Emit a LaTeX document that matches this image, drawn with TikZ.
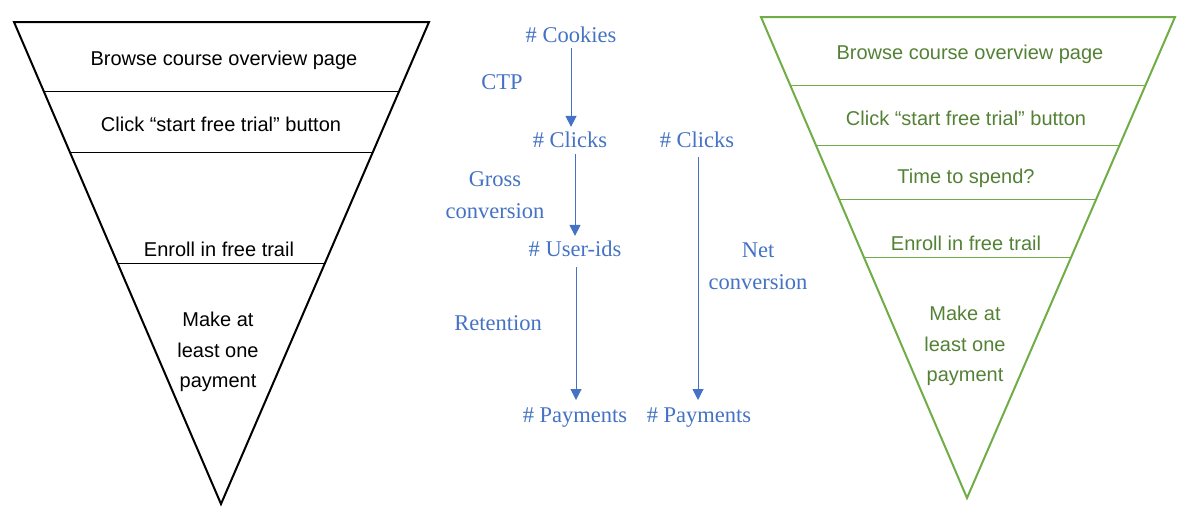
\documentclass[tikz,border=0pt]{standalone}
\usepackage{fontspec}
\setmainfont{Liberation Sans}
\newfontfamily\metricfont{Liberation Serif}
\usetikzlibrary{arrows.meta, positioning, calc}
\definecolor{funnelgreen}{HTML}{70AD47}
\definecolor{stepgreen}{HTML}{538135}
\definecolor{metricblue}{HTML}{4472C4}
\tikzset{
    stage/.style={font=\fontsize{20}{30.5}\selectfont, align=center, inner sep=2pt},
    metric/.style={font=\metricfont\fontsize{22.5}{31.5}\selectfont, text=metricblue, align=center, inner sep=2pt},
    rate/.style={metric},
    flow/.style={-{Triangle[width=11pt,length=11pt]}, draw=metricblue, line width=1pt},
    funnel/.style={line width=2pt, line join=miter},
    divider/.style={line width=1pt}
}

\begin{document}
\begin{tikzpicture}[x=1pt, y=-1pt]
    \useasboundingbox (0,0) rectangle (1193,520);
    % left funnel
    \coordinate (LTL) at (14,22);
    \coordinate (LTR) at (429,22);
    \coordinate (LA) at (221,504);
    \draw[funnel] (LTL) -- (LTR) -- (LA) -- cycle;
    \foreach \t in {0.145, 0.270, 0.502}
        \draw[divider] ($(LTL)!\t!(LA)$) -- ($(LTR)!\t!(LA)$);
    \node[stage] (l1) at (224,60) {Browse course overview page};
    \node[stage] (l2) at (221,124) {Click “start free trial” button};
    \node[stage] (l3) at (219,249) {Enroll in free trail};
    \node[stage] (l4) at (218,352) {Make at\\least one\\payment};

    % metrics
    \node[metric] (cookies) at (571,35) {\# Cookies};
    \node[metric] (clicksA) at (570,140) {\# Clicks};
    \node[metric] (userids) at (575,249) {\# User-ids};
    \node[metric] (paysA) at (575,418) {\# Payments};
    \node[metric] (clicksB) at (697,140) {\# Clicks};
    \node[metric] (paysB) at (699,418) {\# Payments};
    \node[rate] (ctp) at (502,82) {CTP};
    \node[rate] (gross) at (495,195) {Gross\\conversion};
    \node[rate] (retention) at (498,323) {Retention};
    \node[rate] (net) at (758,266) {Net\\conversion};
    \draw[flow, shorten <=3pt, shorten >=3pt] (cookies.south -| 571,0) -- (clicksA.north -| 571,0);
    \draw[flow, shorten <=4pt, shorten >=3pt] (clicksA.south -| 575,0) -- (userids.north -| 575,0);
    \draw[flow, shorten <=8pt, shorten >=6pt] (userids.south -| 576,0) -- (paysA.north -| 576,0);
    \draw[flow, shorten <=7pt, shorten >=6pt] (clicksB.south -| 698,0) -- (paysB.north -| 698,0);

    % right funnel
    \coordinate (RTL) at (761,17);
    \coordinate (RTR) at (1175,17);
    \coordinate (RA) at (967,498);
    \draw[funnel, draw=funnelgreen] (RTL) -- (RTR) -- (RA) -- cycle;
    \foreach \t in {0.143, 0.268, 0.380, 0.501}
        \draw[divider, draw=funnelgreen] ($(RTL)!\t!(RA)$) -- ($(RTR)!\t!(RA)$);
    \node[stage, text=stepgreen] (r1) at (970,54) {Browse course overview page};
    \node[stage, text=stepgreen] (r2) at (966,118) {Click “start free trial” button};
    \node[stage, text=stepgreen] (r3) at (966,178) {Time to spend?};
    \node[stage, text=stepgreen] (r4) at (966,243) {Enroll in free trail};
    \node[stage, text=stepgreen] (r5) at (965,346) {Make at\\least one\\payment};
\end{tikzpicture}
\end{document}
